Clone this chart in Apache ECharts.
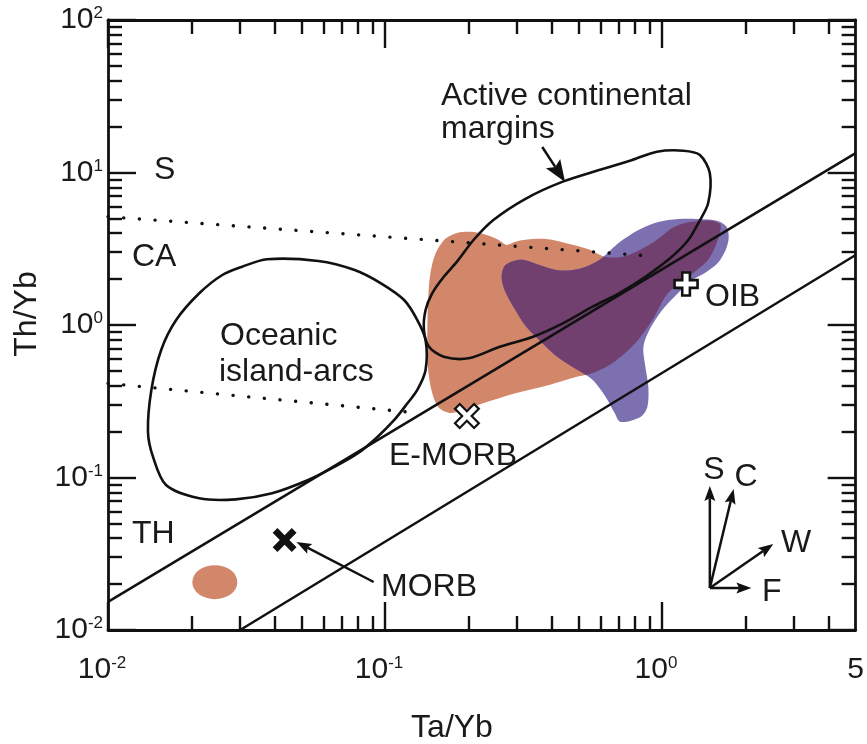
<!DOCTYPE html>
<html>
<head>
<meta charset="utf-8">
<script src="https://cdn.jsdelivr.net/npm/echarts@6/dist/echarts.min.js"></script>
<style>
html,body{margin:0;padding:0;background:#ffffff;}
#chart{width:867px;height:744px;}
</style>
</head>
<body>
<div id="chart"></div>
<script>
// ================= DATA =================
// Axis ticks
const xMajorTicks = [0.01, 0.1, 1];
const xMinorTicks = [0.02,0.03,0.04,0.05,0.06,0.07,0.08,0.09,0.2,0.3,0.4,0.5,0.6,0.7,0.8,0.9,2,3,4];
const xLabelValues = [0.01, 0.1, 1, 5];
const xLabelTexts = ['10^-2', '10^-1', '10^0', '5'];
const yMajorTicks = [0.01, 0.1, 1, 10, 100];
const yMinorTicks = [0.02,0.03,0.04,0.05,0.06,0.07,0.08,0.09,0.2,0.3,0.4,0.5,0.6,0.7,0.8,0.9,2,3,4,5,6,7,8,9,20,30,40,50,60,70,80,90];
const yLabelValues = [0.01, 0.1, 1, 10, 100];
const yLabelTexts = ['10^-2', '10^-1', '10^0', '10^1', '10^2'];

// MORB-OIB array boundaries (Ta/Yb, Th/Yb)
const upperArrayTaYb = [0.01, 5];
const upperArrayThYb = [0.0153, 13.4];
const lowerArrayTaYb = [0.03, 5];
const lowerArrayThYb = [0.01, 2.88];

// Dotted S/CA and CA/TH boundaries
const dotUpperTaYb = [0.01, 0.907];
const dotUpperThYb = [5.13, 2.835];
const dotLowerTaYb = [0.01, 0.134];
const dotLowerThYb = [0.414, 0.264];

// Oceanic island-arcs field outline
const islandArcTaYb = [0.0375,0.0574,0.0777,0.0967,0.1172,0.1308,0.1401,0.1401,0.1308,0.1205,0.108,0.0941,0.0798,0.0659,0.0528,0.0391,0.0289,0.02135,0.0162,0.01453,0.01394,0.01434,0.01556,0.01762,0.02135,0.02586,0.0305];
const islandArcThYb = [2.70,2.63,2.295,1.877,1.458,1.078,0.797,0.507,0.375,0.3066,0.2383,0.1852,0.1441,0.1177,0.0963,0.0788,0.0719,0.0731,0.0893,0.1369,0.1997,0.375,0.686,1.078,1.614,2.128,2.412];

// Active continental margins field outline
const activeMarginTaYb = [0.9587,1.194,1.370,1.488,1.467,1.351,1.244,1.085,0.871,0.6987,0.5612,0.4383,0.3423,0.2598,0.2003,0.1630,0.1441,0.1382,0.1401,0.1480,0.1630,0.1819,0.2087,0.2461,0.3239,0.4383,0.5926,0.7806];
const activeMarginThYb = [13.69,13.90,13.02,9.88,6.28,4.645,3.609,2.805,2.073,1.614,1.318,1.026,0.838,0.7206,0.6048,0.6196,0.7206,0.927,1.254,1.614,2.073,2.601,3.609,4.881,6.773,8.71,10.38,12.08];

// Orange (brown) sample field
const brownFieldTaYb = [0.1505,0.1634,0.1819,0.2093,0.2329,0.2572,0.2747,0.2934,0.3159,0.3819,0.4617,0.5398,0.6262,0.7385,0.9224,1.088,1.211,1.370,1.525,1.628,1.576,1.464,1.283,1.052,0.9224,0.8017,0.6634,0.5626,0.4891,0.3915,0.2983,0.2273,0.1745,0.1568,0.1480,0.1432,0.1421,0.1444];
const brownFieldThYb = [2.792,3.61,4.01,4.07,3.89,3.61,3.35,3.50,3.61,3.66,3.40,3.15,2.79,2.835,3.449,4.326,4.666,4.808,4.808,4.525,3.449,2.669,2.160,1.621,1.078,0.762,0.5634,0.4844,0.456,0.4043,0.3583,0.308,0.2649,0.2856,0.3583,0.507,0.886,1.886];

// Purple sample field
const purpleFieldTaYb = [0.5311,0.4693,0.4147,0.3665,0.3239,0.2910,0.2701,0.2636,0.2701,0.2910,0.3185,0.3604,0.4147,0.4772,0.5398,0.6009,0.6967,0.8220,0.9692,1.143,1.348,1.589,1.712,1.740,1.697,1.589,1.428,1.283,1.143,1.002,0.900,0.8564,0.8710,0.8925,0.8851,0.8356,0.7084,0.6744,0.6262,0.5674];
const purpleFieldThYb = [0.470,0.5384,0.626,0.7737,0.970,1.312,1.696,2.064,2.438,2.628,2.669,2.475,2.295,2.295,2.438,2.709,3.449,4.198,4.736,4.955,4.955,4.808,4.391,3.719,3.103,2.551,2.193,1.973,1.621,1.254,0.927,0.7173,0.5305,0.3922,0.2900,0.2493,0.2312,0.2649,0.3373,0.4292];

// Small orange blob near MORB
const blobTaYb = [0.0243];
const blobThYb = [0.0206];

// Reference compositions
const morbTaYb = [0.0434];   const morbThYb = [0.0389];
const eMorbTaYb = [0.1975];  const eMorbThYb = [0.253];
const oibTaYb = [1.221];     const oibThYb = [1.857];

// Arrows: Active-margin pointer, MORB pointer, S, C, W, F vectors
const arrowFromTaYb = [0.3695, 0.0910, 1.488, 1.488, 1.488, 1.488];
const arrowFromThYb = [14.70, 0.02064, 0.01885, 0.01885, 0.01885, 0.01885];
const arrowToTaYb   = [0.4467, 0.0479, 1.488, 1.813, 2.521, 2.102];
const arrowToThYb   = [8.66, 0.03776, 0.0880, 0.0841, 0.0366, 0.01885];

// ================= STYLE / LAYOUT =================
const INK = '#111111';
const TXT = '#1a1a1a';
const FONT = '"Liberation Sans", Arial, Helvetica, sans-serif';
const BROWN = '#D3876A';
const PURPLE = '#7C70B0';
const DARK = '#72406F';
const arrowHeads = [[22,17],[15,11],[15,11],[15,11],[15,11],[15,11]];

const textLabels = [
  {t:'S', x:154, y:170.4},
  {t:'CA', x:132, y:257},
  {t:'TH', x:132, y:533.7},
  {t:'Oceanic', x:220, y:336.4},
  {t:'island-arcs', x:219, y:372},
  {t:'Active continental', x:441, y:96.4},
  {t:'margins', x:441, y:128.7},
  {t:'E-MORB', x:389, y:456.4},
  {t:'MORB', x:381, y:587},
  {t:'OIB', x:705, y:297},
  {t:'S', x:714, y:470.4, align:'center'},
  {t:'C', x:746, y:477, align:'center'},
  {t:'W', x:781, y:543.4},
  {t:'F', x:762, y:592},
  {t:'Ta/Yb', x:452, y:728.4, align:'center'},
  {t:'Th/Yb', x:27, y:314, align:'center', rot:Math.PI/2}
];

// ================= HELPERS =================
function zip(xs, ys){ return xs.map((x,i)=>[x, ys[i]]); }
function richLabel(t, supStyle){
  const parts = t.split('^');
  return parts.length > 1 ? '{b|' + parts[0] + '}{' + supStyle + '|' + parts[1] + '}' : '{b|' + parts[0] + '}';
}
function labelFor(values, texts, supStyle){
  return function(v){
    const i = values.findIndex(w => Math.abs(Math.log10(w) - Math.log10(v)) < 1e-6);
    return i < 0 ? '' : richLabel(texts[i], supStyle);
  };
}
const richStyles = {
  b: {fontSize:30, lineHeight:30, fontFamily:FONT, color:TXT},
  s: {fontSize:17, lineHeight:10, verticalAlign:'top', fontFamily:FONT, color:TXT},
  sx: {fontSize:17, lineHeight:10, verticalAlign:'top', fontFamily:FONT, color:TXT, padding:[0,12,0,0]}
};

function mkAxis(dim, position, ticks, len, showLine, labelValues, labelTexts, margin){
  const ax = {
    type:'log', logBase:10,
    min: 0.01, max: dim === 'x' ? 5 : 100,
    position: position,
    gridIndex: 0,
    splitLine:{show:false},
    minorTick:{show:false},
    minorSplitLine:{show:false},
    axisLine:{show:showLine, onZero:false, lineStyle:{color:INK, width:2.8}},
    axisTick:{show:true, inside:true, length:len, customValues:ticks, lineStyle:{color:INK, width:2.4}},
    axisLabel:{show:false},
    axisPointer:{show:false},
    silent:true
  };
  if (labelValues) {
    ax.axisLabel = {
      show:true, customValues:labelValues,
      formatter:labelFor(labelValues, labelTexts, dim === 'x' ? 'sx' : 's'),
      margin:margin, rich:richStyles, color:TXT, fontFamily:FONT, fontSize:30
    };
  }
  return ax;
}

function polySeries(xs, ys, style, z, clipXs, clipYs){
  return {
    type:'custom', coordinateSystem:'cartesian2d', xAxisIndex:0, yAxisIndex:0,
    silent:true, z:z, animation:false,
    data:[[xs[0], ys[0]]],
    renderItem:function(params, api){
      const pts = xs.map((x,i)=>api.coord([x, ys[i]]));
      const el = {type:'polygon', shape:{points:pts, smooth:0.3}, style:style};
      if (clipXs) {
        el.clipPath = {type:'polygon', shape:{points:clipXs.map((x,i)=>api.coord([x, clipYs[i]])), smooth:0.3}};
      }
      return el;
    }
  };
}

function lineSeries(xs, ys, lineStyle, z){
  return {
    type:'line', xAxisIndex:0, yAxisIndex:0, data:zip(xs, ys),
    showSymbol:false, symbol:'none', silent:true, z:z, animation:false,
    lineStyle:lineStyle
  };
}

const plusPath = 'path://M-1,-4L1,-4L1,-1L4,-1L4,1L1,1L1,4L-1,4L-1,1L-4,1L-4,-1L-1,-1Z';
const fatPlusPath = 'path://M-1,-3L1,-3L1,-1L3,-1L3,1L1,1L1,3L-1,3L-1,1L-3,1L-3,-1L-1,-1Z';

// ================= CHART =================
const chart = echarts.init(document.getElementById('chart'), null, {renderer:'canvas', width:867, height:744});

const option = {
  animation:false,
  backgroundColor:'#ffffff',
  textStyle:{fontFamily:FONT},
  grid:{left:108, right:4, top:20, bottom:114, containLabel:false},
  xAxis:[
    mkAxis('x','bottom', xMajorTicks, 28, true, xLabelValues, xLabelTexts, 25),
    mkAxis('x','bottom', xMinorTicks, 14, false),
    mkAxis('x','top', xMajorTicks, 28, true),
    mkAxis('x','top', xMinorTicks, 14, false)
  ],
  yAxis:[
    mkAxis('y','left', yMajorTicks, 28, true, yLabelValues, yLabelTexts, 5),
    mkAxis('y','left', yMinorTicks, 14, false),
    mkAxis('y','right', yMajorTicks, 28, true),
    mkAxis('y','right', yMinorTicks, 14, false)
  ],
  series:[
    polySeries(brownFieldTaYb, brownFieldThYb, {fill:BROWN}, 1),
    polySeries(purpleFieldTaYb, purpleFieldThYb, {fill:PURPLE}, 2),
    polySeries(purpleFieldTaYb, purpleFieldThYb, {fill:DARK}, 3, brownFieldTaYb, brownFieldThYb),
    {
      type:'scatter', xAxisIndex:0, yAxisIndex:0, data:zip(blobTaYb, blobThYb),
      symbol:'circle', symbolSize:[45,34], itemStyle:{color:BROWN, opacity:1}, silent:true, z:1
    },
    lineSeries(upperArrayTaYb, upperArrayThYb, {color:INK, width:2.5}, 5),
    lineSeries(lowerArrayTaYb, lowerArrayThYb, {color:INK, width:2.5}, 5),
    lineSeries(dotUpperTaYb, dotUpperThYb, {color:INK, width:3.4, type:[0.1,15.6], cap:'round'}, 5),
    lineSeries(dotLowerTaYb, dotLowerThYb, {color:INK, width:3.4, type:[0.1,15.6], cap:'round'}, 5),
    polySeries(islandArcTaYb, islandArcThYb, {fill:'none', stroke:INK, lineWidth:2.6}, 6),
    polySeries(activeMarginTaYb, activeMarginThYb, {fill:'none', stroke:INK, lineWidth:2.6}, 6),
    {
      type:'custom', coordinateSystem:'cartesian2d', xAxisIndex:0, yAxisIndex:0, silent:true, z:7,
      data: arrowFromTaYb.map((x,i)=>[x, arrowFromThYb[i], arrowToTaYb[i], arrowToThYb[i]]),
      encode:{x:[0,2], y:[1,3]},
      renderItem:function(params, api){
        const p1 = api.coord([api.value(0), api.value(1)]);
        const p2 = api.coord([api.value(2), api.value(3)]);
        const hl = arrowHeads[params.dataIndex][0], hw = arrowHeads[params.dataIndex][1];
        const dx = p2[0]-p1[0], dy = p2[1]-p1[1];
        const L = Math.sqrt(dx*dx+dy*dy) || 1;
        const ux = dx/L, uy = dy/L, nx = -uy, ny = ux;
        const bx = p2[0]-ux*hl, by = p2[1]-uy*hl;
        const notch = [p2[0]-ux*hl*0.82, p2[1]-uy*hl*0.82];
        return {type:'group', children:[
          {type:'line', shape:{x1:p1[0], y1:p1[1], x2:notch[0], y2:notch[1]}, style:{stroke:INK, lineWidth:2.5}},
          {type:'polygon', shape:{points:[p2, [bx+nx*hw/2, by+ny*hw/2], notch, [bx-nx*hw/2, by-ny*hw/2]]}, style:{fill:INK}}
        ]};
      }
    },
    {
      type:'scatter', xAxisIndex:0, yAxisIndex:0, data:zip(morbTaYb, morbThYb),
      symbol:plusPath, symbolSize:27, symbolRotate:45, itemStyle:{color:INK, opacity:1}, silent:true, z:8
    },
    {
      type:'scatter', xAxisIndex:0, yAxisIndex:0, data:zip(eMorbTaYb, eMorbThYb),
      symbol:plusPath, symbolSize:27, symbolRotate:45,
      itemStyle:{color:'#ffffff', borderColor:INK, borderWidth:2.2, opacity:1}, silent:true, z:8
    },
    {
      type:'scatter', xAxisIndex:0, yAxisIndex:0, data:zip(oibTaYb, oibThYb),
      symbol:fatPlusPath, symbolSize:23,
      itemStyle:{color:'#ffffff', borderColor:INK, borderWidth:2.6, opacity:1}, silent:true, z:8
    }
  ],
  graphic:{elements: textLabels.map(l => ({
    type:'text', x:l.x, y:l.y, rotation:l.rot || 0, silent:true, z:100,
    style:{
      text:l.t, font:'32px ' + FONT, fill:TXT,
      align:l.align || 'left', textAlign:l.align || 'left',
      verticalAlign:'middle', textVerticalAlign:'middle'
    }
  }))}
};
chart.setOption(option);
</script>
</body>
</html>
